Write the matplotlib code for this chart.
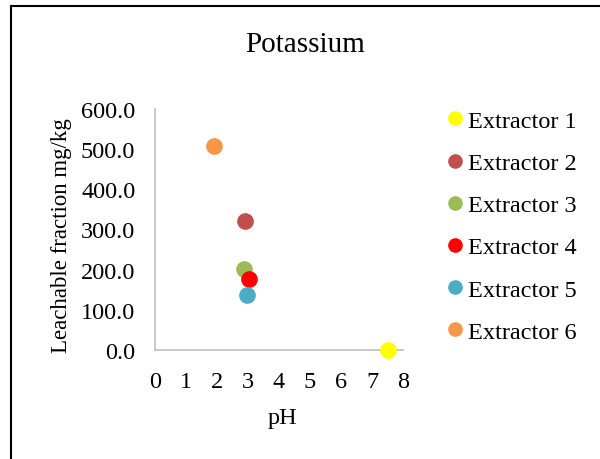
import matplotlib.pyplot as plt
from matplotlib.lines import Line2D
from matplotlib.ticker import FormatStrFormatter

plt.rcParams['font.family'] = ['Liberation Serif', 'DejaVu Serif']

names = ["Extractor 1", "Extractor 2", "Extractor 3", "Extractor 4", "Extractor 5", "Extractor 6"]
ph = [7.52, 2.9, 2.87, 3.03, 2.97, 1.9]
leach = [0.0, 321.0, 202.0, 177.0, 137.0, 507.0]
colors = ["#FFFF00", "#C0504D", "#9BBB59", "#FF0000", "#4BACC6", "#F79646"]

fig = plt.figure(figsize=(6, 4.6), dpi=100)
ax = fig.add_axes([0.258, 0.237, 0.414, 0.524])

for n, x, y, c in zip(names, ph, leach, colors):
    ax.plot(x, y, "o", color=c, markersize=11, label=n, clip_on=False, zorder=3)

ax.set_xlim(0, 8)
ax.set_ylim(0, 600)
ax.set_xticks(range(0, 9))
ax.set_yticks(range(0, 601, 100))
ax.yaxis.set_major_formatter(FormatStrFormatter("%.1f"))
ax.tick_params(length=0, labelsize=17.5)
ax.tick_params(axis="x", pad=15)
ax.tick_params(axis="y", pad=14)
for s in ["top", "right"]:
    ax.spines[s].set_visible(False)
for s in ["left", "bottom"]:
    ax.spines[s].set_color("#BFBFBF")
    ax.spines[s].set_linewidth(1.2)

fig.text(0.508, 0.902, "Potassium", fontsize=21, ha="center", va="center")
fig.text(0.47, 0.0913, "pH", fontsize=17.5, ha="center", va="center")
fig.text(0.103, 0.487, "Leachable fraction mg/kg", fontsize=16.5, rotation=90,
         ha="center", va="center")

handles = [Line2D([], [], marker="o", linestyle="", color=c, markersize=9.5) for c in colors]
fig.legend(handles, names, loc="upper left", bbox_to_anchor=(0.722, 0.78),
           frameon=False, fontsize=17.5, handletextpad=0.05, labelspacing=0.83,
           handlelength=1.0, borderaxespad=0)

# outer chart frame (left and top edges visible)
fig.add_artist(Line2D([0.018, 0.018], [0, 0.985], color="black", linewidth=1.5))
fig.add_artist(Line2D([0.018, 1.0], [0.985, 0.985], color="black", linewidth=1.5))

fig.savefig("out.png")
